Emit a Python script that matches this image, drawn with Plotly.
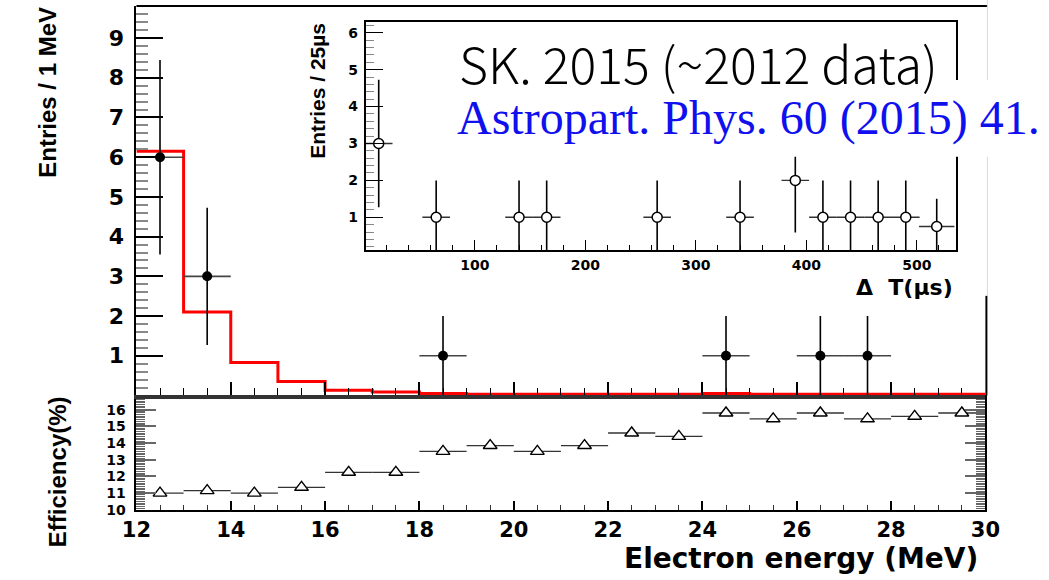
import plotly.graph_objects as go

W, H = 1049, 580

# ---------------- data ----------------
# main panel: observed events per 1 MeV
energy_centers = [12.5, 13.5, 18.5, 24.5, 26.5, 27.5]
energy_counts = [6, 3, 1, 1, 1, 1]
energy_err = [2.45, 1.73, 1.0, 1.0, 1.0, 1.0]
energy_xerr = [0.5, 0.5, 0.5, 0.5, 0.5, 0.5]

# main panel: red expectation histogram (bin edges 12..30)
mc_edges = [12, 13, 14, 15, 16, 17, 18, 19, 20, 21, 22, 23, 24, 25, 26, 27, 28, 29, 30]
mc_values = [6.15, 2.1, 0.83, 0.35, 0.13, 0.09, 0.05, 0.03, 0.03, 0.03, 0.03, 0.03,
             0.05, 0.03, 0.03, 0.03, 0.03, 0.03]

# bottom panel: efficiency (%)
eff_centers = [12.5, 13.5, 14.5, 15.5, 16.5, 17.5, 18.5, 19.5, 20.5,
               21.5, 22.5, 23.5, 24.5, 25.5, 26.5, 27.5, 28.5, 29.5]
eff_values = [11.0, 11.15, 11.0, 11.35, 12.25, 12.25, 13.5, 13.85, 13.5,
              13.85, 14.6, 14.4, 15.8, 15.45, 15.8, 15.45, 15.6, 15.8]
eff_xerr = [0.5] * 18

# inset: Delta T distribution
dt_centers = [13, 65, 140, 165, 265, 340, 390, 415, 440, 465, 490, 518]
dt_counts = [3, 1, 1, 1, 1, 1, 2, 1, 1, 1, 1, 0.75]
dt_err = [1.73, 1, 1, 1, 1, 1, 1.41, 1, 1, 1, 1, 0.75]
dt_xerr = [12.5, 12.5, 12.5, 12.5, 12.5, 12.5, 12.5, 12.5, 12.5, 12.5, 12.5, 16]

main_yticks = [1, 2, 3, 4, 5, 6, 7, 8, 9]
eff_yticks = [10, 11, 12, 13, 14, 15, 16]
x_ticks = [12, 14, 16, 18, 20, 22, 24, 26, 28, 30]
dt_xticks = [100, 200, 300, 400, 500]
dt_yticks = [1, 2, 3, 4, 5, 6]

# ---------------- geometry helpers ----------------
def px(x):
    return x / W

def py(y):
    return 1 - y / H

XL, XR = 125, 999          # shared x extent of both panels
MAIN_T, MAIN_B = 6, 401
EFF_T, EFF_B = 403, 517
INS_L, INS_R, INS_T, INS_B = 361, 969, 22, 254

BOLD = "DejaVu Sans"
TITLEF = "Liberation Sans, Arial, sans-serif"

fig = go.Figure()

# red histogram
hx = list(mc_edges)
hy = list(mc_values) + [mc_values[-1]]
fig.add_trace(go.Scatter(x=hx, y=hy, mode="lines", line=dict(color="#ff0000", width=3, shape="hv"),
                         xaxis="x2", yaxis="y2", hoverinfo="skip", showlegend=False))

# main data points
fig.add_trace(go.Scatter(
    x=energy_centers, y=energy_counts, mode="markers",
    marker=dict(symbol="circle", size=10, color="black"),
    error_y=dict(type="data", array=energy_err, color="black", thickness=1.6, width=0),
    error_x=dict(type="data", array=energy_xerr, color="#444444", thickness=1.6, width=0),
    xaxis="x2", yaxis="y2", showlegend=False))

# efficiency
fig.add_trace(go.Scatter(
    x=eff_centers, y=eff_values, mode="markers",
    marker=dict(symbol="triangle-up", size=12, color="white", line=dict(color="black", width=1.4)),
    error_x=dict(type="data", array=eff_xerr, color="#333333", thickness=1.3, width=0),
    xaxis="x", yaxis="y", showlegend=False))

# inset
fig.add_trace(go.Scatter(
    x=dt_centers, y=dt_counts, mode="markers",
    marker=dict(symbol="circle", size=10, color="white", line=dict(color="black", width=1.5)),
    error_y=dict(type="data", array=dt_err, color="black", thickness=1.6, width=0),
    error_x=dict(type="data", array=dt_xerr, color="#333333", thickness=1.4, width=0),
    xaxis="x3", yaxis="y3", showlegend=False, cliponaxis=True))

fig.update_layout(
    width=W, height=H,
    margin=dict(l=0, r=0, t=0, b=0),
    paper_bgcolor="white", plot_bgcolor="rgba(0,0,0,0)",
    showlegend=False,
    xaxis=dict(domain=[px(XL), px(XR)], range=[12, 30], anchor="y",
               tickmode="array", tickvals=x_ticks, ticktext=[str(v) for v in x_ticks],
               ticks="inside", ticklen=9, tickwidth=1.5, tickcolor="black",
               minor=dict(dtick=0.5, ticks="inside", ticklen=5, tickcolor="#333333", tickwidth=1.2),
               showline=True, linecolor="black", linewidth=2, mirror=True,
               showgrid=False, zeroline=False,
               tickfont=dict(family=BOLD, size=21, color="black", weight="bold"), ticklabelstandoff=0),
    yaxis=dict(domain=[py(EFF_B), py(EFF_T)], range=[10, 16.73], anchor="x",
               tickmode="array", tickvals=eff_yticks, ticktext=[str(v) for v in eff_yticks],
               ticks="inside", ticklen=20, tickwidth=1.5, tickcolor="#666666",
               minor=dict(dtick=0.1, ticks="inside", ticklen=9, tickcolor="#666666", tickwidth=1),
               showline=True, linecolor="black", linewidth=2, mirror="ticks",
               showgrid=False, zeroline=False,
               tickfont=dict(family=BOLD, size=14, color="black", weight="bold"), ticklabelstandoff=6),
    xaxis2=dict(domain=[px(XL), px(XR)], range=[12, 30], anchor="y2", matches="x",
                tickmode="array", tickvals=x_ticks, showticklabels=False,
                ticks="inside", ticklen=13, tickwidth=1.6, tickcolor="black",
                minor=dict(dtick=0.5, ticks="inside", ticklen=7, tickcolor="black", tickwidth=1.4),
                showline=True, linecolor="#333333", linewidth=4, mirror=False,
                showgrid=False, zeroline=False),
    yaxis2=dict(domain=[py(MAIN_B), py(MAIN_T)], range=[0, 9.81], anchor="x2",
                tickmode="array", tickvals=main_yticks, ticktext=[str(v) for v in main_yticks],
                ticks="inside", ticklen=27, tickwidth=1.5, tickcolor="black",
                minor=dict(dtick=0.2, ticks="inside", ticklen=12, tickcolor="#888888", tickwidth=1.6),
                showline=True, linecolor="black", linewidth=2, mirror=False,
                showgrid=False, zeroline=False,
                tickfont=dict(family=BOLD, size=22, color="black", weight="bold"), ticklabelstandoff=6),
    xaxis3=dict(domain=[px(INS_L), px(INS_R)], range=[1.2, 535.7], anchor="y3",
                tickmode="array", tickvals=dt_xticks, ticktext=[str(v) for v in dt_xticks],
                ticks="inside", ticklen=10, tickwidth=1.4, tickcolor="black",
                minor=dict(dtick=20, ticks="inside", ticklen=5, tickcolor="black", tickwidth=1.2),
                showline=True, linecolor="black", linewidth=2, mirror=True,
                showgrid=False, zeroline=False,
                tickfont=dict(family=BOLD, size=14, color="black", weight="bold"), ticklabelstandoff=1),
    yaxis3=dict(domain=[py(INS_B), py(INS_T)], range=[0.1, 6.3], anchor="x3",
                tickmode="array", tickvals=dt_yticks, ticktext=[str(v) for v in dt_yticks],
                ticks="inside", ticklen=17, tickwidth=1.4, tickcolor="black",
                minor=dict(dtick=0.2, ticks="inside", ticklen=8, tickcolor="#888888", tickwidth=1.4),
                showline=True, linecolor="black", linewidth=2, mirror=True,
                showgrid=False, zeroline=False,
                tickfont=dict(family=BOLD, size=14, color="black", weight="bold"), ticklabelstandoff=3),
)

shapes = []
# main frame top
shapes.append(dict(type="line", xref="paper", yref="paper", x0=px(XL), x1=px(1001), y0=py(MAIN_T), y1=py(MAIN_T),
                   line=dict(color="black", width=2)))
# right edge of main frame: faint upper part, black lower part
shapes.append(dict(type="line", xref="paper", yref="paper", x0=px(1001), x1=px(1001), y0=py(300), y1=py(0),
                   line=dict(color="#d9d9d9", width=1)))
shapes.append(dict(type="line", xref="paper", yref="paper", x0=px(1000), x1=px(1000), y0=py(MAIN_B), y1=py(300),
                   line=dict(color="black", width=2)))
# white box behind the blue reference
shapes.append(dict(type="rect", xref="paper", yref="paper", x0=px(445), x1=1.0, y0=py(159), y1=py(81),
                   fillcolor="white", line=dict(width=0), layer="above"))
fig.update_layout(shapes=shapes)

ann = []
ann.append(dict(text="Entries / 1 MeV", x=px(34), y=py(94), xref="paper", yref="paper",
                showarrow=False, textangle=-90, xanchor="center", yanchor="middle",
                font=dict(family=TITLEF, size=24, color="black", weight="bold")))
ann.append(dict(text="Efficiency(%)", x=px(44), y=py(478), xref="paper", yref="paper",
                showarrow=False, textangle=-90, xanchor="center", yanchor="middle",
                font=dict(family=TITLEF, size=24, color="black", weight="bold")))
ann.append(dict(text="Entries / 25µs", x=px(312), y=py(92), xref="paper", yref="paper",
                showarrow=False, textangle=-90, xanchor="center", yanchor="middle",
                font=dict(family=TITLEF, size=21, color="black", weight="bold")))
ann.append(dict(text="Δ  T(µs)", x=px(968), y=py(292), xref="paper", yref="paper",
                showarrow=False, xanchor="right", yanchor="middle",
                font=dict(family=BOLD, size=22, color="black", weight="bold")))
ann.append(dict(text="Electron energy (MeV)", x=px(993), y=py(566), xref="paper", yref="paper",
                showarrow=False, xanchor="right", yanchor="middle",
                font=dict(family=BOLD, size=28, color="black", weight="bold")))
ann.append(dict(text="SK. 2015 (~2012 data)", x=px(455), y=py(63), xref="paper", yref="paper",
                showarrow=False, xanchor="left", yanchor="middle",
                font=dict(family="Noto Sans CJK JP, Noto Sans", size=50, color="black", weight=300)))
ann.append(dict(text="Astropart. Phys. 60 (2015) 41.", x=px(453), y=py(120), xref="paper", yref="paper",
                showarrow=False, xanchor="left", yanchor="middle",
                font=dict(family="Liberation Serif, Times New Roman, serif", size=48, color="#1010ee")))
fig.update_layout(annotations=ann)

fig.write_html("out.html")
